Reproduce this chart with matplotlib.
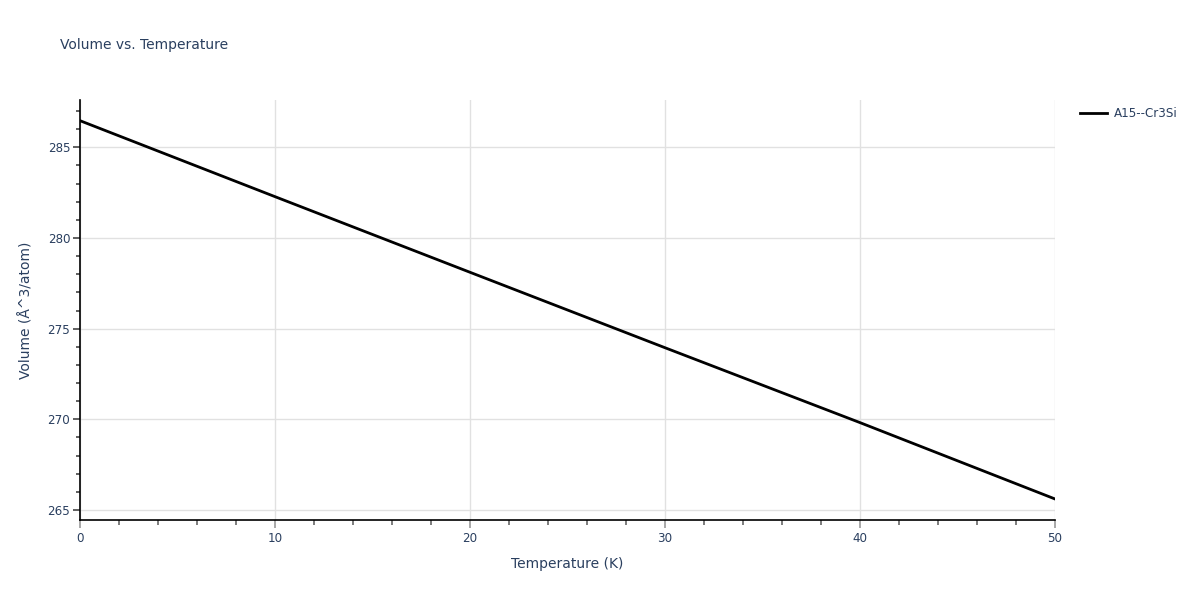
import numpy as np
import matplotlib.pyplot as plt
from matplotlib.ticker import MultipleLocator

# Values
temperature = [0, 10, 20, 30, 40, 50]
volume = [286.47, 282.28, 278.11, 273.95, 269.82, 265.61]
series_name = 'A15--Cr3Si'

text_color = '#2a3f5f'
grid_color = '#e1e1e1'

plt.rcParams['font.family'] = ['DejaVu Sans']

fig = plt.figure(figsize=(12, 6), dpi=100)
ax = fig.add_axes([80 / 1200, 80 / 600, 975 / 1200, 420 / 600])

ax.plot(temperature, volume, color='black', linewidth=2, label=series_name)

ax.set_xlim(0, 50)
ax.set_ylim(264.45, 287.61)

ax.xaxis.set_major_locator(MultipleLocator(10))
ax.xaxis.set_minor_locator(MultipleLocator(2))
ax.yaxis.set_major_locator(MultipleLocator(5))
ax.yaxis.set_minor_locator(MultipleLocator(1))

ax.grid(True, which='major', color=grid_color, linewidth=1)
ax.set_axisbelow(True)

for side in ['top', 'right']:
    ax.spines[side].set_visible(False)
for side in ['left', 'bottom']:
    ax.spines[side].set_color('black')
    ax.spines[side].set_linewidth(1.2)

ax.tick_params(axis='x', which='major', direction='out', length=6, width=1.2,
               color='#999999', labelsize=8.6, labelcolor=text_color, pad=3)
ax.tick_params(axis='x', which='minor', direction='out', length=3.5, width=1.2,
               color='#666666')
ax.tick_params(axis='y', which='major', direction='out', length=5, width=1.2,
               color='#444444', labelsize=8.6, labelcolor=text_color, pad=2)
ax.tick_params(axis='y', which='minor', direction='out', length=3, width=1.2,
               color='#444444')

ax.set_xlabel('Temperature (K)', fontsize=10, color=text_color, labelpad=8)
ax.set_ylabel('Volume (Å^3/atom)', fontsize=10, color=text_color, labelpad=10)

fig.text(60 / 1200, 1 - 45 / 600, 'Volume vs. Temperature', fontsize=10,
         color=text_color, va='center', ha='left')

leg = ax.legend(loc='upper left', bbox_to_anchor=(1.018, 1.0), frameon=False,
                fontsize=8.6, handlelength=2.3, handletextpad=0.6, borderaxespad=0.2)
for t in leg.get_texts():
    t.set_color(text_color)

fig.savefig('out.png', dpi=100)
